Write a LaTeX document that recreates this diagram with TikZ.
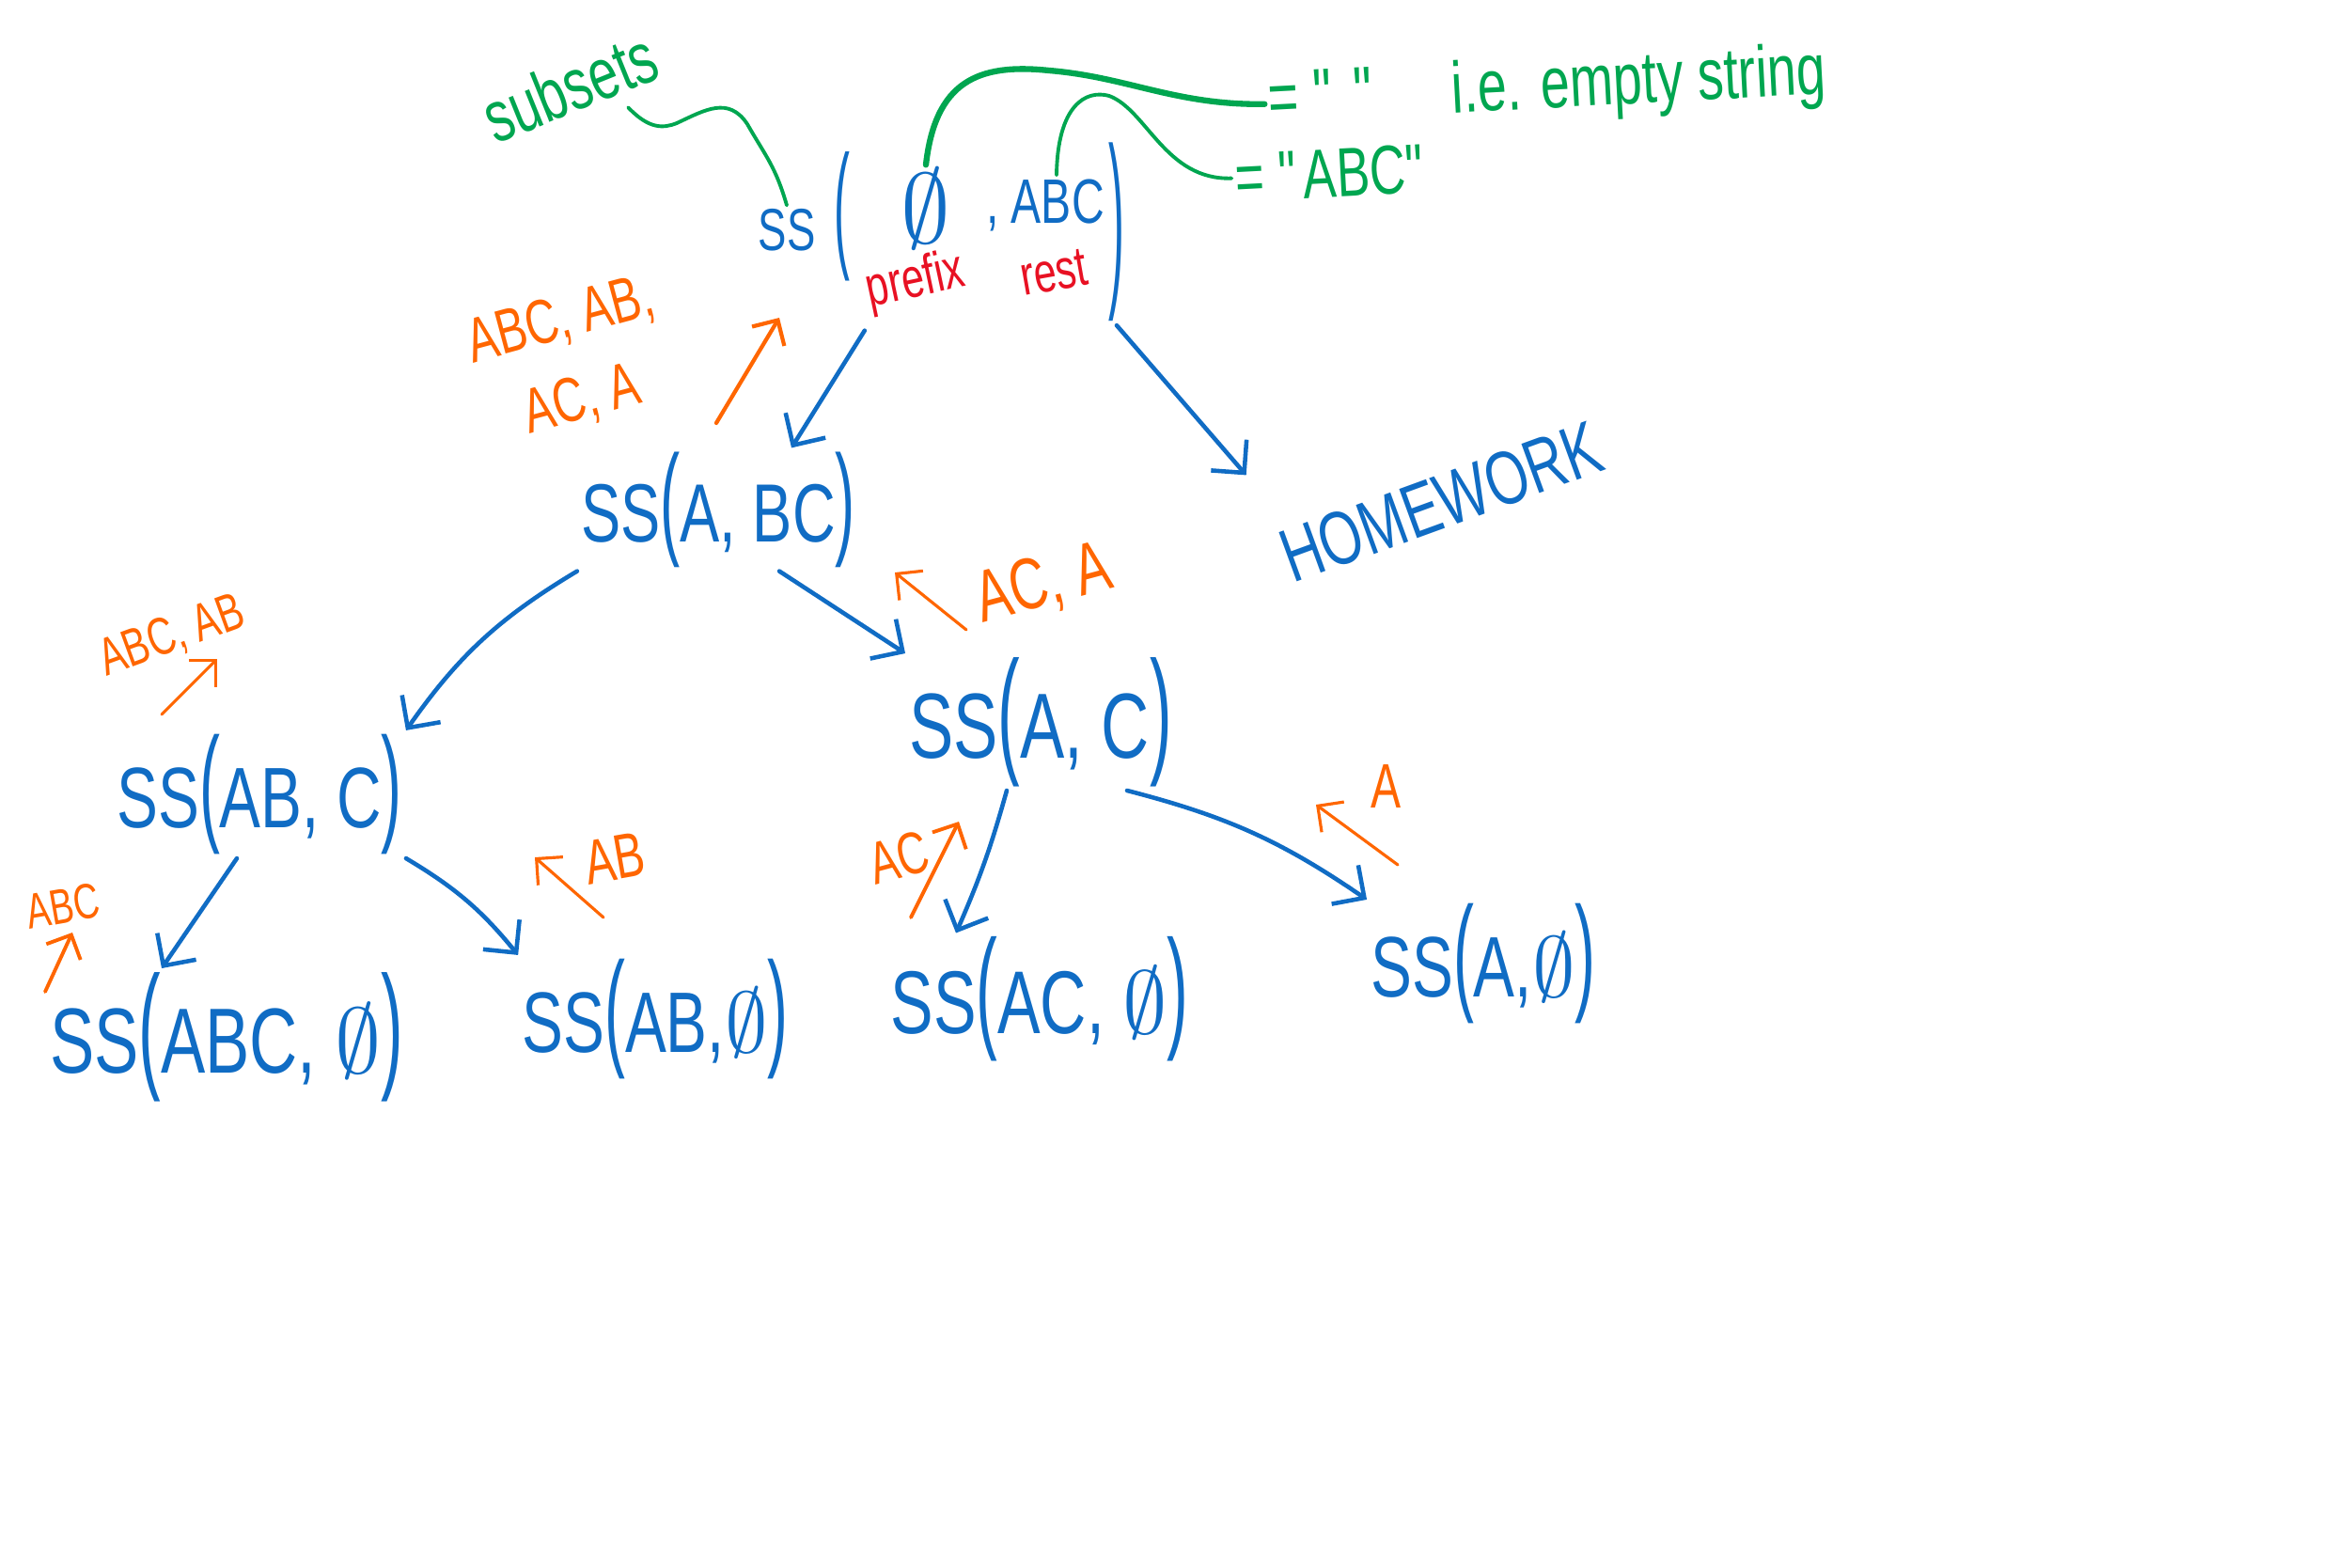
\RequirePackage{fix-cm}
\documentclass[tikz,border=0pt]{standalone}
\usepackage{graphicx}
\usepackage{amssymb}
\usepackage{fontspec}
\usepackage{tikz}
\usetikzlibrary{arrows.meta}

\newfontfamily\hand[FakeStretch=0.72]{Liberation Sans}
\newcommand\handsz[1]{\hand\fontsize{#1}{#1}\selectfont}
\newcommand\lpar{\scalebox{1}[1.5]{(}}
\newcommand\rpar{\scalebox{1}[1.5]{)}}
\definecolor{penblue}{RGB}{16,108,196}
\definecolor{penorange}{RGB}{255,102,0}
\definecolor{pengreen}{RGB}{0,166,80}
\definecolor{penred}{RGB}{232,17,35}

\begin{document}
\begin{tikzpicture}[inner sep=1pt,
    callnode/.style={text=penblue},
    retnode/.style={text=penorange},
    notenode/.style={text=pengreen},
    callarrow/.style={-{Straight Barb[length=2.5mm,width=5mm]}, penblue, line width=1.3pt, line cap=round},
    retarrow/.style={-{Straight Barb[length=2mm,width=4mm]}, penorange, line width=0.9pt, line cap=round},
    noteline/.style={pengreen, line width=1.1pt, line cap=round}]
        \useasboundingbox (0,0) rectangle (25,16.67);
        % top call, written in pieces
        \node[callnode, font=\handsz{18}] (rss) at (8.37,14.22) {SS};
        \node[callnode, font=\handsz{20}] (rlp) at (8.96,14.37) {\scalebox{1}[2.1]{(}};
        \node[callnode, font=\fontsize{30}{30}\selectfont] (rempty) at (9.85,14.45) {$\emptyset$};
        \node[callnode, font=\handsz{19}] (rrest) at (11.12,14.49) {, ABC};
        \node[callnode, font=\handsz{20}] (rrp) at (11.88,14.2) {\scalebox{1}[2.9]{)}};
        \node[text=penred, font=\handsz{17}, rotate=12] (prefix) at (9.74,13.67) {prefix};
        \node[text=penred, font=\handsz{17}, rotate=10] (rest) at (11.21,13.77) {rest};
        % notes
        \node[notenode, font=\handsz{22}, rotate=22] (subsets) at (6.06,15.75) {subsets};
        \node[notenode, font=\handsz{22}, rotate=3] (eq1) at (16.46,15.72) {= \textquotedbl\ \textquotedbl\quad i.e. empty string};
        \node[notenode, font=\handsz{21}, rotate=3] (eq2) at (14.18,14.83) {= \textquotedbl ABC\textquotedbl};
        % calls
        \node[callnode, font=\handsz{25}] (ssabc) at (7.64,11.25) {SS\lpar A, BC\rpar};
        \node[callnode, font=\handsz{23}, rotate=20] (homework) at (15.33,11.33) {HOMEWORK};
        \node[callnode, font=\handsz{26}] (ssabC) at (2.76,8.22) {SS\lpar AB, C\rpar};
        \node[callnode, font=\handsz{28}] (ssac) at (11.07,8.99) {SS\lpar A, C\rpar};
        \node[callnode, font=\handsz{28}] (ssabcE) at (2.41,5.64) {SS\lpar ABC, $\emptyset$\rpar};
        \node[callnode, font=\handsz{26}] (ssabE) at (6.97,5.83) {SS\lpar AB,$\emptyset$\rpar};
        \node[callnode, font=\handsz{27}] (ssacE) at (11.06,6.04) {SS\lpar AC, $\emptyset$\rpar};
        \node[callnode, font=\handsz{26}] (ssaE) at (15.78,6.42) {SS\lpar A,$\emptyset$\rpar};
        % returned subsets
        \node[retnode, font=\hand\fontsize{19}{25}\selectfont, rotate=15, align=center] (retone) at (6.08,12.83) {ABC, AB,\\AC, A};
        \node[retnode, font=\handsz{22}, rotate=15] (rettwo) at (11.10,10.45) {AC, A};
        \node[retnode, font=\handsz{16}, rotate=20] (retthree) at (1.83,9.90) {ABC, AB};
        \node[retnode, font=\handsz{15}, rotate=10] (retfour) at (0.67,7.03) {ABC};
        \node[retnode, font=\handsz{19}, rotate=10] (retfive) at (6.54,7.54) {AB};
        \node[retnode, font=\handsz{18}, rotate=15] (retsix) at (9.56,7.55) {AC};
        \node[retnode, font=\handsz{19}] (retseven) at (14.75,8.30) {A};
        \coordinate (r1a) at (7.62,12.17);
        \coordinate (r1b) at (8.29,13.29);
        \coordinate (r2a) at (10.28,9.97);
        \coordinate (r2b) at (9.52,10.58);
        \coordinate (r3a) at (1.72,9.07);
        \coordinate (r3b) at (2.31,9.66);
        \coordinate (r4a) at (0.48,6.12);
        \coordinate (r4b) at (0.77,6.75);
        \coordinate (r5a) at (6.42,6.91);
        \coordinate (r5b) at (5.69,7.55);
        \coordinate (r6a) at (9.69,6.91);
        \coordinate (r6b) at (10.20,7.93);
        \coordinate (r7a) at (14.87,7.47);
        \coordinate (r7b) at (14.00,8.11);
        % green notes
        \draw[noteline] ([shift={(0.5,0.08)}]subsets.south) .. controls (6.9,15.3) and (7.05,15.3) .. (7.2,15.36) .. controls (7.5,15.5) and (7.75,15.65) .. (7.95,15.35) .. controls (8.15,15.0) and (8.25,14.9) .. (rss.north);
        \draw[noteline, line width=1.8pt] (rempty.north) .. controls (9.95,15.8) and (10.4,16.0) .. (11.16,15.92) .. controls (12.0,15.85) and (12.5,15.55) .. (eq1.west);
        \draw[noteline] ([xshift=0.12cm]rrest.north) .. controls (11.25,15.55) and (11.55,15.72) .. (11.8,15.65) .. controls (12.2,15.5) and (12.4,14.75) .. (eq2.west);
        % calls
        \draw[callarrow, shorten <=1mm] (prefix.south west) -- ([xshift=0.78cm]ssabc.north);
        \draw[callarrow] (rrp.south) -- ([shift={(-0.25,0.6)}]homework.north west);
        \draw[callarrow] (ssabc.south west) to[bend right=12] (ssabC.north east);
        \draw[callarrow] ([xshift=-0.85cm]ssabc.south east) -- (ssac.north west);
        \draw[callarrow] ([xshift=-0.24cm]ssabC.south) -- ([xshift=-0.69cm]ssabcE.north);
        \draw[callarrow] (ssabC.south east) to[bend left=10] (ssabE.north west);
        \draw[callarrow] ([xshift=-0.36cm]ssac.south) to[bend left=4] ([xshift=-0.89cm]ssacE.north);
        \draw[callarrow] ([xshift=0.92cm]ssac.south) to[bend left=10] (ssaE.north west);
        % returns
        \draw[retarrow, line width=1.2pt] (r1a) -- (r1b);
        \draw[retarrow] (r2a) -- (r2b);
        \draw[retarrow] (r3a) -- (r3b);
        \draw[retarrow, line width=1.1pt] (r4a) -- (r4b);
        \draw[retarrow] (r5a) -- (r5b);
        \draw[retarrow, line width=1.1pt] (r6a) -- (r6b);
        \draw[retarrow] (r7a) -- (r7b);
\end{tikzpicture}
\end{document}
